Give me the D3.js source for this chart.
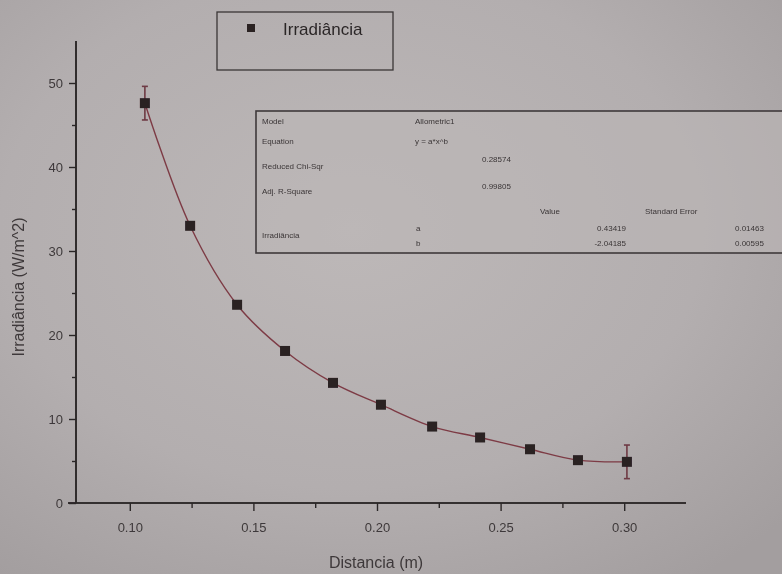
<!DOCTYPE html>
<html><head><meta charset="utf-8">
<script src="https://cdn.jsdelivr.net/npm/d3@7/dist/d3.min.js"></script>
<style>html,body{margin:0;padding:0;background:#b4afb0;}svg{display:block;}</style>
</head><body>
<script>
// ---- data ----
const distance = [0.1061,0.1244,0.1434,0.1628,0.1822,0.2016,0.2223,0.2417,0.2619,0.2813,0.3011];
const irradiance = [47.6,33.0,23.6,18.1,14.3,11.7,9.1,7.8,6.4,5.1,4.9];
const errors = [2.0,0.4,0.4,0.4,0.4,0.4,0.4,0.4,0.4,0.4,2.0];
const xTicks = [0.10,0.15,0.20,0.25,0.30];
const xMinor = [0.125,0.175,0.225,0.275];
const yTicks = [0,10,20,30,40,50];
const yMinor = [5,15,25,35,45];
const seriesName = "Irradiância";
const tableRows = [
  ["Model","Allometric1"],
  ["Equation","y = a*x^b"],
  ["Reduced Chi-Sqr","0.28574"],
  ["Adj. R-Square","0.99805"]
];
const paramNames = ["a","b"];
const paramValues = ["0.43419","-2.04185"];
const paramErrors = ["0.01463","0.00595"];

const W=782,H=574;
const svg=d3.select("body").append("svg").attr("width",W).attr("height",H);
const defs=svg.append("defs");
const rg=defs.append("radialGradient").attr("id","bg").attr("cx","0.45").attr("cy","0.4").attr("r","0.75");
rg.append("stop").attr("offset","0").attr("stop-color","#bdb8b8");
rg.append("stop").attr("offset","0.6").attr("stop-color","#b3aeaf");
rg.append("stop").attr("offset","1").attr("stop-color","#a39e9f");
defs.append("filter").attr("id","soft").append("feGaussianBlur").attr("stdDeviation",0.55);
defs.append("filter").attr("id","softer").append("feGaussianBlur").attr("stdDeviation",0.75);
svg.append("rect").attr("width",W).attr("height",H).attr("fill","url(#bg)");

const g=svg.append("g").attr("filter","url(#soft)");
const ink="#2c2728", txt="#3e393a";
const x=d3.scaleLinear().domain([0.075,0.325]).range([68,686]);
const y=d3.scaleLinear().domain([0,55]).range([503,41]);
const x0=76;

// x axis
const xa=g.append("g").attr("transform",`translate(0,${y(0)})`)
  .call(d3.axisBottom(x).tickValues(xTicks).tickFormat(d3.format(".2f")).tickSize(8).tickPadding(12));
xa.append("g").call(d3.axisBottom(x).tickValues(xMinor).tickFormat("").tickSize(5));
xa.selectAll(".domain").attr("stroke",ink).attr("stroke-width",1.6);
xa.selectAll("line").attr("stroke",ink).attr("stroke-width",1.4);
xa.selectAll("text").attr("fill",txt).style("font-family","Liberation Sans, Arial, sans-serif").style("font-size","13px");
xa.selectAll(".domain").attr("d",`M${x.range()[0]},0H${x.range()[1]}`);

// y axis
const ya=g.append("g").attr("transform",`translate(${x0},0)`)
  .call(d3.axisLeft(y).tickValues(yTicks).tickSize(7).tickPadding(6));
ya.append("g").call(d3.axisLeft(y).tickValues(yMinor).tickFormat("").tickSize(4));
ya.selectAll(".domain").attr("stroke",ink).attr("stroke-width",1.6).attr("d",`M0,${y.range()[1]}V${y(0)}`);
ya.selectAll("line").attr("stroke",ink).attr("stroke-width",1.4);
ya.selectAll("text").attr("fill",txt).style("font-family","Liberation Sans, Arial, sans-serif").style("font-size","13px");

// axis titles
g.append("text").attr("x",376).attr("y",568).attr("text-anchor","middle")
  .attr("fill",txt).style("font-family","Liberation Sans, Arial, sans-serif").style("font-size","16px").text("Distancia (m)");
g.append("text").attr("transform","translate(24,287) rotate(-90)").attr("text-anchor","middle")
  .attr("fill",txt).style("font-family","Liberation Sans, Arial, sans-serif").style("font-size","16px").text("Irradiância (W/m^2)");

// fit curve
const pts=distance.map((d,i)=>[d,irradiance[i]]);
g.append("path").datum(pts).attr("fill","none").attr("stroke","#7d3b45").attr("stroke-width",1.4)
  .attr("d",d3.line().x(d=>x(d[0])).y(d=>y(d[1])).curve(d3.curveCatmullRom.alpha(0.5)));

// error bars
const eb=g.append("g").attr("stroke","#6e3a44").attr("stroke-width",1.6);
distance.forEach((d,i)=>{
  const cx=x(d),t=y(irradiance[i]+errors[i]),b=y(irradiance[i]-errors[i]);
  eb.append("line").attr("x1",cx).attr("x2",cx).attr("y1",t).attr("y2",b);
  eb.append("line").attr("x1",cx-3).attr("x2",cx+3).attr("y1",t).attr("y2",t);
  eb.append("line").attr("x1",cx-3).attr("x2",cx+3).attr("y1",b).attr("y2",b);
});
// markers
g.append("g").selectAll("rect").data(pts).join("rect")
  .attr("x",d=>x(d[0])-5).attr("y",d=>y(d[1])-5).attr("width",10).attr("height",10).attr("fill","#2a2123");

// legend
g.append("rect").attr("x",217).attr("y",12).attr("width",176).attr("height",58)
  .attr("fill","none").attr("stroke","#3a3536").attr("stroke-width",1.3);
g.append("rect").attr("x",247).attr("y",24).attr("width",8).attr("height",8).attr("fill","#2a2123");
g.append("text").attr("x",283).attr("y",35).attr("fill",ink)
  .style("font-family","Liberation Sans, Arial, sans-serif").style("font-size","17px").text(seriesName);

// fit table
const tg=svg.append("g").attr("filter","url(#softer)");
const tf="Liberation Sans, Arial, sans-serif";
tg.append("rect").attr("x",256).attr("y",111).attr("width",540).attr("height",142)
  .attr("fill","#bab5b5").attr("fill-opacity",0.6).attr("stroke","#3f3a3b").attr("stroke-width",1.6);
const tx=(xx,yy,s,anchor)=>tg.append("text").attr("x",xx).attr("y",yy).attr("text-anchor",anchor||"start")
  .attr("fill","#3a3536").style("font-family",tf).style("font-size","8px").text(s);
const rowY=[124,144,169,194];
const valY=[124,144,162,189];
tableRows.forEach((r,i)=>{
  tx(262,rowY[i],r[0]);
  tx(i<2?415:482,valY[i],r[1]);
});
tx(540,214,"Value"); tx(645,214,"Standard Error");
tx(262,238,seriesName);
paramNames.forEach((p,i)=>{
  const yy=[231,246][i];
  tx(416,yy,p);
  tx(626,yy,paramValues[i],"end");
  tx(735,yy,paramErrors[i]);
});
</script>
</body></html>
